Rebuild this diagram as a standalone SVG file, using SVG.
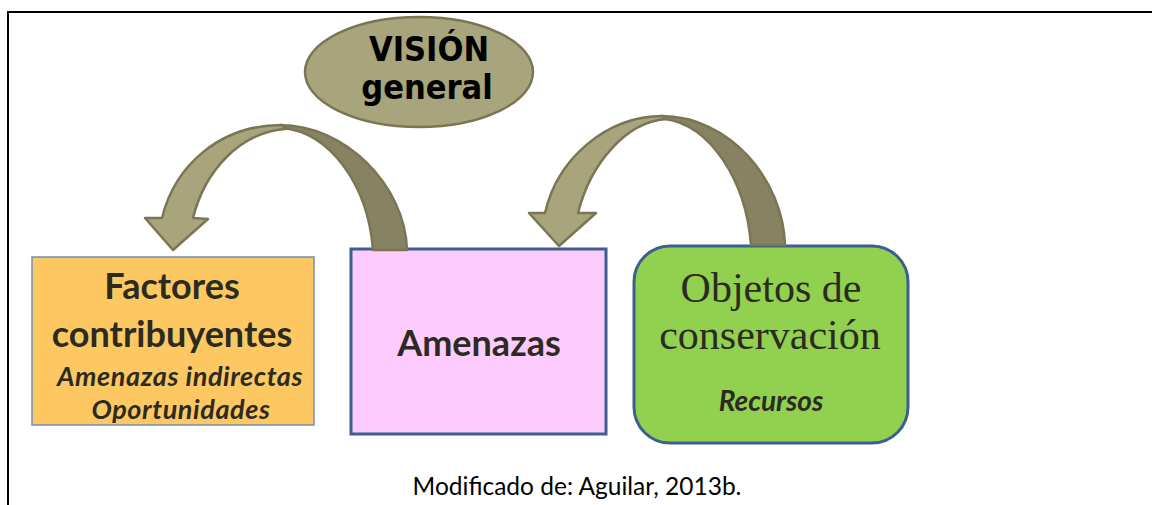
<svg xmlns="http://www.w3.org/2000/svg" width="1152" height="505" viewBox="0 0 1152 505">
  <style>
    .frame { stroke: #000; stroke-width: 2; fill: none; }
    .box-blue { stroke: #3d5f90; stroke-width: 3; }
    .cal { font-family: Lato, "Open Sans", "Liberation Sans", sans-serif; fill: #2b2b22; text-anchor: middle; }
    .b { font-weight: bold; }
    .bi { font-weight: bold; font-style: italic; }
    .serif { font-family: "Liberation Serif", "DejaVu Serif", serif; fill: #2b2b22; text-anchor: middle; }
    .vis { font-family: "DejaVu Sans Condensed", "DejaVu Sans", sans-serif; font-stretch: condensed; font-weight: bold; fill: #000; text-anchor: middle; }
    .front { fill: #a8a47b; stroke: #7a7655; stroke-width: 2.5; stroke-linejoin: round; }
    .back { fill: #878262; stroke: #7a7655; stroke-width: 2.5; stroke-linejoin: round; }
  </style>

  <g id="frame">
    <line class="frame" x1="7" y1="12" x2="1152" y2="12"/>
    <line class="frame" x1="8" y1="11" x2="8" y2="505"/>
  </g>

  <g id="vision">
    <ellipse cx="419" cy="72" rx="114" ry="55" fill="#a8a47b" stroke="#7a7655" stroke-width="2.5"/>
    <text class="vis" x="429" y="61" font-size="34">VISIÓN</text>
    <text class="vis" x="427" y="99" font-size="34">general</text>
  </g>

  <g id="factores">
    <rect x="32" y="257" width="282" height="168" fill="#fdc862" stroke="#7090b8" stroke-width="1.5"/>
    <text class="cal b" x="172" y="299" font-size="36">Factores</text>
    <text class="cal b" x="172" y="347" font-size="36">contribuyentes</text>
    <text class="cal bi" x="180" y="386" font-size="27" letter-spacing="0.6">Amenazas indirectas</text>
    <text class="cal bi" x="181" y="419" font-size="27" letter-spacing="0.6">Oportunidades</text>
  </g>

  <g id="amenazas">
    <rect class="box-blue" x="351" y="249" width="255" height="185" fill="#fecbfe"/>
    <text class="cal b" x="479" y="356" font-size="36">Amenazas</text>
  </g>

  <g id="objetos">
    <rect class="box-blue" x="634" y="246" width="274" height="197" rx="36" ry="36" fill="#92d050"/>
    <text class="serif" x="771" y="302" font-size="42">Objetos de</text>
    <text class="serif" x="770" y="349" font-size="42">conservación</text>
    <text class="cal bi" x="771" y="411" font-size="28">Recursos</text>
  </g>

  <g id="connectors">
    <g id="arrow-amenazas-factores">
      <path class="back" d="M280,125 C345,125 405,185 407,250 L373,250 C368,185 330,132 282,128 Z"/>
      <path class="front" d="M282,125 C220,125 175,165 162,218 L145,218 L173,250 L208,219 L193,218 C205,170 240,133 285,129 Z"/>
    </g>
    <g id="arrow-objetos-amenazas">
      <path class="back" d="M661,116 C730,116 783,180 785,245 L751,245 C746,180 710,125 665,119 Z"/>
      <path class="front" d="M663,116 C605,116 557,160 545,213 L529,213 L559,246 L596,213 L578,213 C590,165 625,122 666,119 Z"/>
    </g>
  </g>

  <g id="caption">
    <text class="cal" x="577" y="495" font-size="24.5" style="fill:#000">Modificado de: Aguilar, 2013b.</text>
  </g>
</svg>
